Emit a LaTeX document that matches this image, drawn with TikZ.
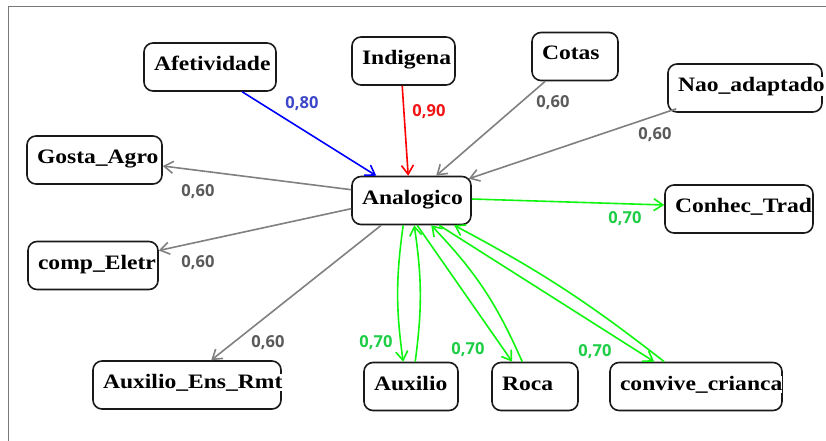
\documentclass[tikz,border=0pt]{standalone}
\usepackage{fontspec}
\usetikzlibrary{arrows.meta}
\newfontfamily\boxfont{Liberation Serif}[FakeStretch=1.15]
\newfontfamily\wfont{Open Sans}
\definecolor{framegray}{RGB}{120,120,120}
\definecolor{edgegray}{RGB}{128,128,128}
\definecolor{labgray}{RGB}{90,90,90}
\definecolor{edgegreen}{RGB}{15,245,15}
\definecolor{labgreen}{RGB}{30,205,70}
\definecolor{edgeblue}{RGB}{0,0,255}
\definecolor{labblue}{RGB}{60,70,200}
\definecolor{edgered}{RGB}{255,0,0}
\definecolor{labred}{RGB}{240,20,20}
% text on a white patch so that it hides the border where it runs past it
\newcommand\boxtxt[1]{{\fboxsep=0pt\colorbox{white}{#1}}}
\tikzset{
  var/.style={draw=black!90, line width=1.6pt, rounded corners=9pt,
    inner xsep=10pt, inner ysep=0pt, text width=#1, align=left,
    minimum height=48pt, text height=13pt, text depth=6pt,
    font=\boxfont\bfseries\fontsize{20.5}{22}\selectfont},
  wlab/.style={inner sep=0pt, font=\wfont\bfseries\fontsize{16.5}{18}\selectfont},
  link/.style={line width=1.6pt, -{Straight Barb[length=9pt,width=12pt]}},
}
\begin{document}
\begin{tikzpicture}[x=1pt,y=-1pt]
\useasboundingbox (0,0) rectangle (826,441);
\draw[framegray, line width=1pt] (826,7) -- (8,7) -- (8,441);

% variables
\node[var=112pt] (afe) at (210,67)    {\boxtxt{Afetividade}};
\node[var=83pt]  (ind) at (403.5,61)  {\boxtxt{Indigena}};
\node[var=66pt]  (cot) at (575,56.5)  {\boxtxt{Cotas}};
\node[var=134pt] (nao) at (745,88)    {\boxtxt{Nao\_adaptado}};
\node[var=115pt] (gos) at (94.5,160)  {\boxtxt{Gosta\_Agro}};
\node[var=110pt] (cmp) at (93,265.5)  {\boxtxt{comp\_Eletr}};
\node[var=99pt]  (ana) at (411.5,200.5) {\boxtxt{Analogico}};
\node[var=128pt] (con) at (739,209)   {\boxtxt{Conhec\_Trad}};
\node[var=168pt] (aer) at (187,385)   {\boxtxt{Auxilio\_Ens\_Rmt}};
\node[var=74pt]  (aux) at (411,386.5) {\boxtxt{Auxilio}};
\node[var=66pt]  (roc) at (535,386.5) {\boxtxt{Roca}};
\node[var=152pt] (cvc) at (696,386.5) {\boxtxt{convive\_crianca}};

% incoming links
\draw[link, edgeblue] ([xshift=99pt]afe.south west) -- ([xshift=25pt]ana.north west);
\draw[link, edgered]  ([xshift=51pt]ind.south west) -- ([xshift=57pt]ana.north west);
\draw[link, edgegray] ([xshift=14pt]cot.south west) -- ([xshift=85pt]ana.north west);
\draw[link, edgegray] ([xshift=9pt,yshift=4pt]nao.south west) -- ([xshift=-3pt,yshift=-3pt]ana.north east);

% outgoing links
\draw[link, edgegray] ([yshift=-14pt]ana.north west) -- ([yshift=-6pt]gos.east);
\draw[link, edgegray] ([yshift=-33pt]ana.north west) -- ([yshift=15pt]cmp.east);
\draw[link, edgegray] ([xshift=30pt]ana.south west) -- ([xshift=119pt]aer.north west);
\draw[link, edgegreen] ([yshift=1.5pt]ana.east) -- ([yshift=4pt]con.west);

% two-way links
\draw[link, edgegreen] ([xshift=52pt]ana.south west) to[bend right=8] ([xshift=40pt]aux.north west);
\draw[link, edgegreen] ([xshift=52pt]aux.north west) to[bend right=8] ([xshift=63pt]ana.south west);
\draw[link, edgegreen] ([xshift=66pt]ana.south west) -- ([xshift=21pt]roc.north west);
\draw[link, edgegreen] ([xshift=31pt]roc.north west) to[bend right=10] ([xshift=80pt]ana.south west);
\draw[link, edgegreen] ([xshift=88pt]ana.south west) -- ([xshift=45pt]cvc.north west);
\draw[link, edgegreen] ([xshift=55pt]cvc.north west) to[bend right=5] ([xshift=103pt]ana.south west);

% weights
\node[wlab, text=labblue] (w1) at (302,104) {0,80};
\node[wlab, text=labred]  (w2) at (429,112) {0,90};
\node[wlab, text=labgray] (w3) at (553,103) {0,60};
\node[wlab, text=labgray] (w4) at (655,135) {0,60};
\node[wlab, text=labgray] (w5) at (198,192) {0,60};
\node[wlab, text=labgray] (w6) at (198,263) {0,60};
\node[wlab, text=labgray] (w7) at (268,343) {0,60};
\node[wlab, text=labgreen] (w8) at (625,219) {0,70};
\node[wlab, text=labgreen] (w9) at (376,343) {0,70};
\node[wlab, text=labgreen] (w10) at (468,350) {0,70};
\node[wlab, text=labgreen] (w11) at (595,352) {0,70};
\end{tikzpicture}
\end{document}
